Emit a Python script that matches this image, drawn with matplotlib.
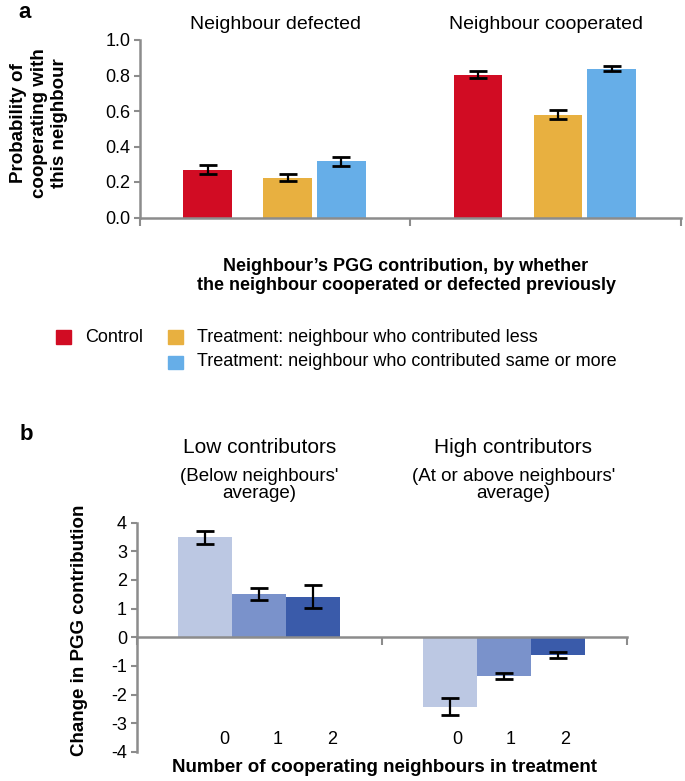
import numpy as np
import matplotlib.pyplot as plt
from matplotlib.patches import Rectangle

plt.rcParams['font.family'] = ['Liberation Sans', 'DejaVu Sans']
plt.rcParams['axes.unicode_minus'] = False

# ---- data, panel a
groups_a = ["Neighbour defected", "Neighbour cooperated"]
series_a = ["Control",
            "Treatment: neighbour who contributed less",
            "Treatment: neighbour who contributed same or more"]
colors_a = ["#D10C23", "#E8B040", "#66AEE8"]
control = [0.27, 0.805]
treat_less = [0.225, 0.58]
treat_more = [0.317, 0.838]
control_err = [0.025, 0.018]
treat_less_err = [0.018, 0.025]
treat_more_err = [0.025, 0.015]

# ---- data, panel b
groups_b = ["Low contributors", "High contributors"]
subtitles_b = ["(Below neighbours'\naverage)", "(At or above neighbours'\naverage)"]
n_coop = ["0", "1", "2"]
colors_b = ["#BCC8E3", "#7A92CB", "#3A5BAA"]
change_low = [3.48, 1.5, 1.42]
change_high = [-2.42, -1.35, -0.63]
err_low = [0.24, 0.2, 0.4]
err_high = [0.3, 0.11, 0.1]

W, H = 685, 781
fig = plt.figure(figsize=(W / 100, H / 100), dpi=100)


def fx(x):
    return x / W


def fy(y):
    return 1 - y / H


grey = "#8C8C8C"
tick_fs = 13


def style_axes(ax):
    for s in ["top", "right"]:
        ax.spines[s].set_visible(False)
    for s in ["left", "bottom"]:
        ax.spines[s].set_color(grey)
        ax.spines[s].set_linewidth(1.8)
    ax.tick_params(axis="y", direction="out", length=4, width=1.5,
                   color=grey, labelsize=tick_fs, pad=3)
    ax.tick_params(axis="x", direction="out", length=6, width=1.5,
                   color=grey, labelbottom=False)
    ax.set_xlim(0, 2)
    ax.set_xticks([0, 1, 2])


# ================= panel a
ax1 = fig.add_axes([fx(140), fy(217.5), fx(540.7), (217.5 - 40) / H])
style_axes(ax1)
centers = np.array([0.5, 1.5])
offs_a = [-0.25, 0.046, 0.245]
vals_a = [control, treat_less, treat_more]
errs_a = [control_err, treat_less_err, treat_more_err]
for i in range(3):
    ax1.bar(centers + offs_a[i], vals_a[i], width=0.18, color=colors_a[i],
            yerr=errs_a[i], error_kw=dict(ecolor="black", elinewidth=1.6,
                                          capsize=6.5, capthick=2))
ax1.set_ylim(0, 1)
ax1.set_yticks(np.arange(0, 1.01, 0.2))
ax1.set_yticklabels([f"{v:.1f}" for v in np.arange(0, 1.01, 0.2)])
for c, g in zip(centers, groups_a):
    ax1.text(c, 1.09, g, ha="center", va="center", fontsize=14,
             transform=ax1.get_xaxis_transform())
ax1.text(0.492, -0.33,
         "Neighbour\u2019s PGG contribution, by whether\n"
         "the neighbour cooperated or defected previously",
         ha="center", va="center", fontsize=13, fontweight="bold",
         linespacing=1.1, transform=ax1.transAxes)
fig.text(fx(39), fy(123), "Probability of\ncooperating with\nthis neighbour",
         rotation=90, ha="center", va="center", fontsize=13.5,
         fontweight="bold", linespacing=1.28)
fig.text(fx(18), fy(2), "a", fontsize=16, fontweight="bold", ha="left", va="top")

# legend (manual layout: Control alone, two treatments stacked)
leg_pos = [(56, 337), (168, 337), (168, 362)]
for (lx, ly), col, lab in zip(leg_pos, colors_a, series_a):
    fig.add_artist(Rectangle((fx(lx), fy(ly + 6.5)), 15 / W, 13 / H,
                             transform=fig.transFigure, color=col))
    fig.text(fx(lx + 29), fy(ly), lab, fontsize=13, ha="left", va="center")

# ================= panel b
ax2 = fig.add_axes([fx(136.7), fy(752), fx(490), (752 - 522.5) / H])
style_axes(ax2)
ax2.spines["bottom"].set_position(("data", 0))
offs_b = [-0.22, 0.0, 0.22]
for i in range(3):
    ax2.bar(centers + offs_b[i], [change_low[i], change_high[i]], width=0.22,
            color=colors_b[i], yerr=[err_low[i], err_high[i]],
            error_kw=dict(ecolor="black", elinewidth=1.6, capsize=6.3, capthick=2))
ax2.set_ylim(-4, 4)
ax2.set_yticks(range(-4, 5))
label_shift = [0.077, 0.028]
for c, sh in zip(centers, label_shift):
    for o, lab in zip(offs_b, n_coop):
        ax2.text(c + o + sh, -3.58, lab, ha="center", va="center", fontsize=tick_fs)
title_shift = [0.0, 0.037]
for c, sh, g, s in zip(centers, title_shift, groups_b, subtitles_b):
    ax2.text(c + sh, 6.63, g, ha="center", va="center", fontsize=15)
    ax2.text(c + sh, 5.31, s, ha="center", va="center", fontsize=13.5,
             linespacing=1.05)
fig.text(fx(79), fy(630), "Change in PGG contribution", rotation=90,
         ha="center", va="center", fontsize=13.5, fontweight="bold")
fig.text(fx(384), fy(768), "Number of cooperating neighbours in treatment",
         ha="center", va="center", fontsize=13.5, fontweight="bold")
fig.text(fx(20), fy(435), "b", fontsize=16, fontweight="bold", ha="left", va="center")

fig.savefig("out.png", dpi=100)
